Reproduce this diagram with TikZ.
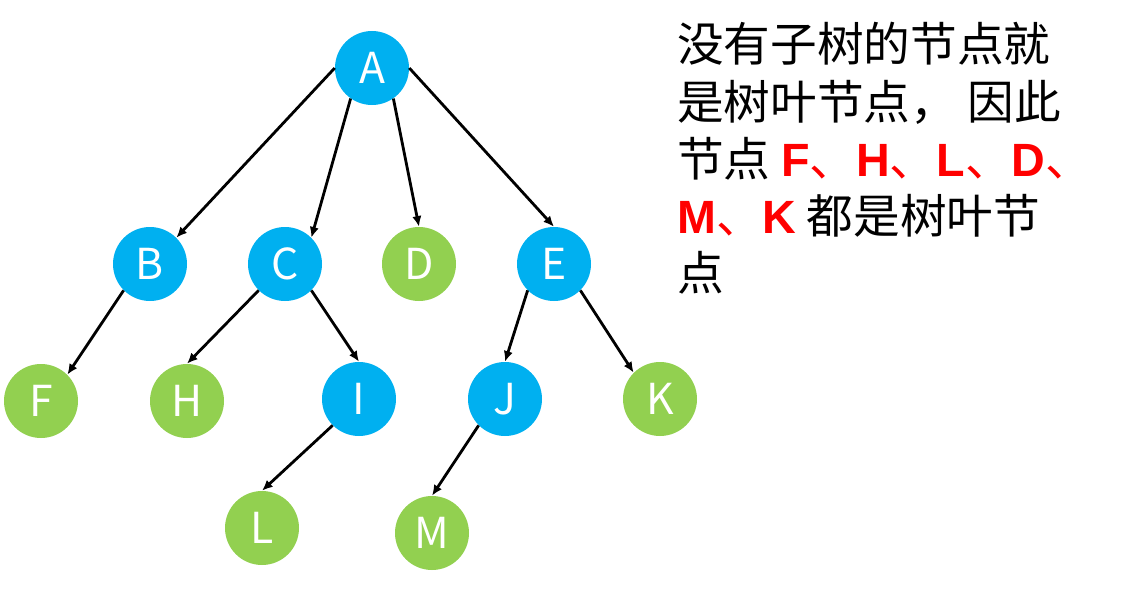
\documentclass[tikz,border=0pt]{standalone}
\usepackage{fontspec}
\setmainfont{Noto Sans CJK SC}
\newfontfamily\latinbold{Liberation Sans}
\usetikzlibrary{arrows.meta}
\definecolor{treeblue}{HTML}{00B0F0}
\definecolor{leafgreen}{HTML}{92D050}
\definecolor{keyred}{HTML}{FF0000}
\newcommand{\leafkey}[1]{{\latinbold\bfseries #1}}

\begin{document}
\begin{tikzpicture}[x=0.75pt,y=-0.75pt,
		branchnode/.style={circle,fill=treeblue,text=white,minimum size=55.5pt,inner sep=0pt,font=\fontsize{32}{32}\selectfont},
		leafnode/.style={branchnode,fill=leafgreen},
		link/.style={line width=2.1pt,-{Latex[length=8pt,width=7pt]}},
		textline/.style={anchor=base west,inner sep=0pt,font=\fontsize{35}{43}\selectfont}]
	\useasboundingbox (0,0) rectangle (1123,592);
	% tree
	\node [branchnode] (A) at (372,68) {A};
	\node [branchnode] (B) at (150,264) {B};
	\node [branchnode] (C) at (285,264) {C};
	\node [leafnode] (D) at (419,264) {D};
	\node [branchnode] (E) at (554,264) {E};
	\node [leafnode] (F) at (41,401) {F};
	\node [leafnode] (H) at (187,401) {H};
	\node [branchnode] (I) at (359,399) {I};
	\node [branchnode] (J) at (505,399) {J};
	\node [leafnode] (K) at (660,399) {K};
	\node [leafnode] (L) at (262,528) {L};
	\node [leafnode] (M) at (432,533) {M};
	\draw [link] (A.180) -- (B.45);
	\draw [link] (A.235) -- (C.45);
	\draw [link] (A.305) -- (D.90);
	\draw [link] (A.0) -- (E.90);
	\draw [link] (B.225) -- (F.45);
	\draw [link] (C.225) -- (H.90);
	\draw [link] (C.315) -- (I.90);
	\draw [link] (E.225) -- (J.90);
	\draw [link] (E.315) -- (K.135);
	\draw [link] (I.225) -- (L.90);
	\draw [link] (J.225) -- (M.90);
	% explanation
	\node [textline] (t1) at (677,62) {没有子树的节点就};
	\node [textline] (t2) at (677,119) {是树叶节点， 因此};
	\node [textline] (t3) at (677,176) {节点 {\color{keyred}\leafkey{F}、\leafkey{H}、\leafkey{L}、\leafkey{D}、}};
	\node [textline] (t4) at (677,233) {{\color{keyred}\leafkey{M}、\leafkey{K}} 都是树叶节};
	\node [textline] (t5) at (677,290) {点};
\end{tikzpicture}
\end{document}
